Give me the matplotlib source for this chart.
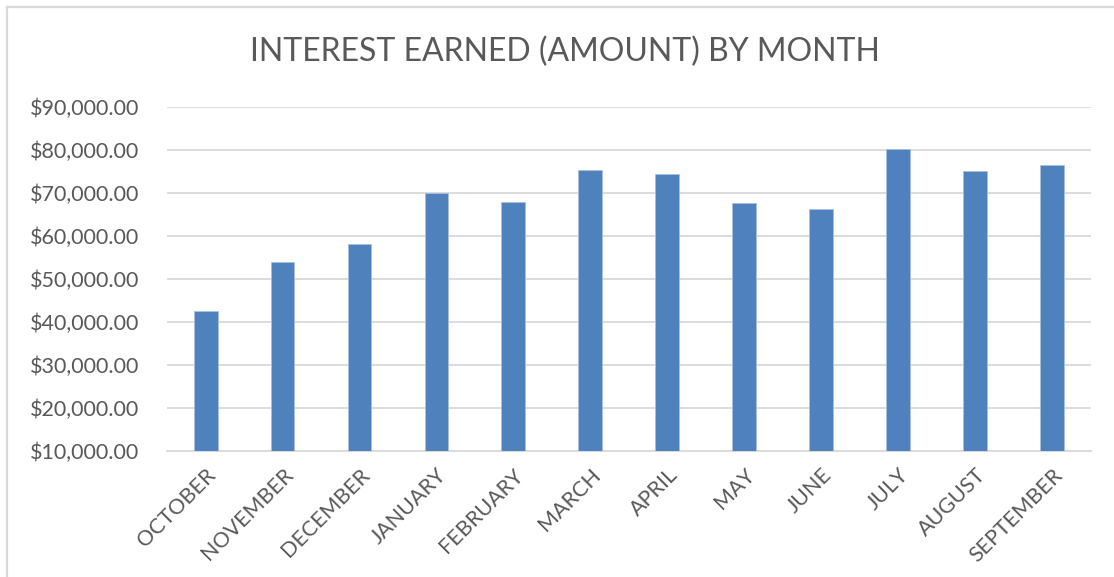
import matplotlib
matplotlib.use("Agg")
import matplotlib.pyplot as plt
from matplotlib.lines import Line2D
from matplotlib.ticker import FuncFormatter, MultipleLocator

months = ["OCTOBER", "NOVEMBER", "DECEMBER", "JANUARY", "FEBRUARY", "MARCH",
          "APRIL", "MAY", "JUNE", "JULY", "AUGUST", "SEPTEMBER"]
interest = [42500, 54000, 58100, 70000, 67800, 75350,
            74350, 67700, 66100, 80150, 75100, 76400]
title = "INTEREST EARNED (AMOUNT) BY MONTH"

plt.rcParams['font.family'] = ['Lato', 'DejaVu Sans']
text_color = "#595959"
grid_color = "#d9d9d9"

fig = plt.figure(figsize=(11.14, 5.77), dpi=100)
ax = fig.add_axes([0.150, 0.2184, 0.829, 0.597])

x = list(range(len(months)))
ax.bar(x, interest, width=0.31, color="#4f81bd", edgecolor="#a9c1e0", linewidth=0.6, zorder=3)

ax.set_xlim(-0.5, len(months) - 0.5)
ax.set_ylim(10000, 90000)
ax.yaxis.set_major_locator(MultipleLocator(10000))
ax.yaxis.set_major_formatter(FuncFormatter(lambda v, p: "${:,.2f}".format(v)))
ax.grid(axis='y', color=grid_color, linewidth=1.3, zorder=0)
ax.set_axisbelow(True)

for s in ["top", "right", "left"]:
    ax.spines[s].set_visible(False)
ax.spines["bottom"].set_color(grid_color)
ax.spines["bottom"].set_linewidth(1.3)

ax.tick_params(axis='y', length=0, pad=20, labelsize=15.5, labelcolor=text_color)
ax.tick_params(axis='x', length=0, pad=10, labelsize=15.5, labelcolor=text_color)
ax.set_xticks(x)
ax.set_xticklabels(months, rotation=45, ha='right', rotation_mode='anchor')

fig.text(0.507, 0.910, title, ha='center', va='center', fontsize=23, color=text_color)

# chart-area border (left and top edges visible)
fig.add_artist(Line2D([0.0065, 0.0065], [0.0, 0.9875], transform=fig.transFigure,
                      color="#d9d9d9", linewidth=1.6))
fig.add_artist(Line2D([0.0065, 1.0], [0.9875, 0.9875], transform=fig.transFigure,
                      color="#d9d9d9", linewidth=1.6))

fig.savefig("out.png", dpi=100)
